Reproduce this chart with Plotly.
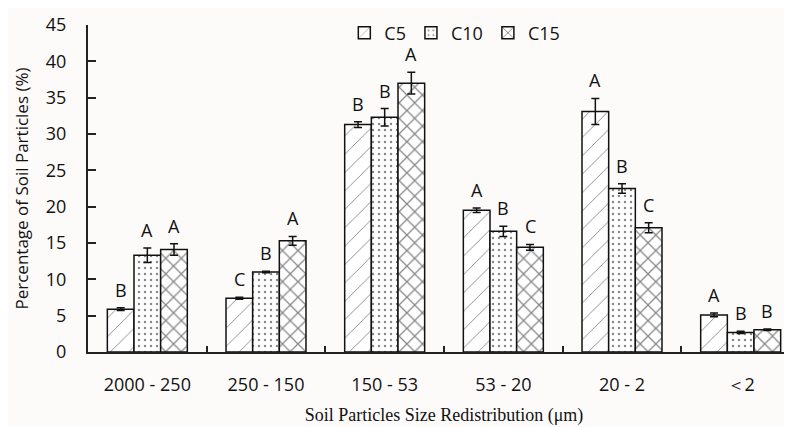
import plotly.graph_objects as go

categories = ["2000 - 250", "250 - 150", "150 - 53", "53 - 20", "20 - 2", "＜2"]
series_names = ["C5", "C10", "C15"]
c5 = [5.9, 7.4, 31.3, 19.5, 33.1, 5.1]
c10 = [13.3, 11.0, 32.3, 16.6, 22.5, 2.7]
c15 = [14.1, 15.3, 37.0, 14.4, 17.1, 3.05]
c5_err = [0.2, 0.15, 0.4, 0.3, 1.8, 0.25]
c10_err = [1.0, 0.1, 1.2, 0.7, 0.65, 0.15]
c15_err = [0.8, 0.6, 1.5, 0.4, 0.7, 0.1]
c5_letters = ["B", "C", "B", "A", "A", "A"]
c10_letters = ["A", "B", "B", "B", "B", "B"]
c15_letters = ["A", "A", "A", "C", "C", "B"]

values = [c5, c10, c15]
errors = [c5_err, c10_err, c15_err]
letters = [c5_letters, c10_letters, c15_letters]
shapes = ["/", ".", "x"]
sizes = [13, 6, 11]
solid = [0.07, 0.14, 0.22]

BG = "#fdfbfa"
FONT = "Open Sans"

fig = go.Figure()
for i, name in enumerate(series_names):
    fig.add_trace(go.Bar(
        x=categories, y=values[i], name=name,
        marker=dict(color="white",
                    line=dict(color="#111111", width=1.5),
                    pattern=dict(shape=shapes[i], fgcolor="#111111",
                                 bgcolor="white", size=sizes[i],
                                 solidity=solid[i])),
        error_y=dict(type="data", array=errors[i], color="#111111",
                     thickness=1.5, width=4),
    ))

bar_px = 26.7
for i in range(3):
    for j, cat in enumerate(categories):
        fig.add_annotation(
            x=cat, y=values[i][j] + errors[i][j], xref="x", yref="y",
            text=letters[i][j], showarrow=False, yanchor="bottom",
            xshift=(i - 1) * bar_px, yshift=4,
            font=dict(family=FONT, size=18, color="#111111"))

fig.update_layout(
    width=792, height=427,
    margin=dict(l=80, r=0, t=17, b=83),
    paper_bgcolor=BG, plot_bgcolor=BG,
    barmode="group", bargap=0.326, bargroupgap=0,
    font=dict(family=FONT, size=18, color="#111111"),
    showlegend=True,
    legend=dict(orientation="h", x=0.36, xanchor="left", y=0.9755,
                yanchor="middle", bgcolor="rgba(0,0,0,0)",
                font=dict(family=FONT, size=18), itemwidth=30),
    xaxis=dict(
        automargin=False,
        showline=True, linecolor="#222222", linewidth=2,
        ticks="inside", ticklen=6, tickcolor="#222222", tickwidth=1.5,
        tickson="boundaries", showgrid=False,
        tickfont=dict(family=FONT, size=18),
        ticklabelstandoff=15,
        title=dict(text="Soil Particles Size Redistribution (μm)",
                   font=dict(family="Liberation Serif", size=18), standoff=14),
    ),
    yaxis=dict(
        automargin=False,
        range=[0, 45], dtick=5, showline=True, linecolor="#222222", linewidth=2,
        ticks="inside", ticklen=8, tickcolor="#222222", tickwidth=1.5,
        showgrid=False, zeroline=False,
        tickfont=dict(family=FONT, size=18),
        ticklabelstandoff=16,
        title=dict(text="Percentage of Soil Particles (%)",
                   font=dict(family=FONT, size=17), standoff=13),
    ),
)

fig.write_html("out.html")
